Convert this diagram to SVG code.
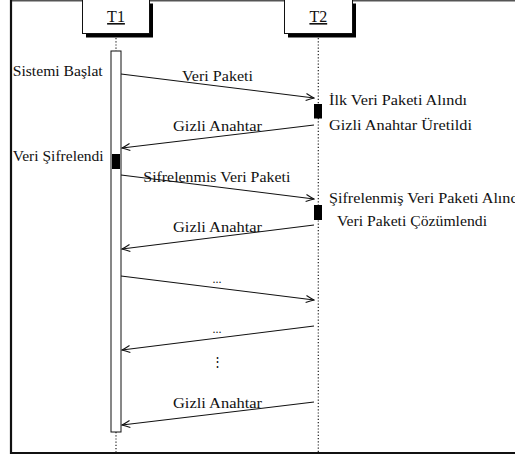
<svg xmlns="http://www.w3.org/2000/svg" width="515" height="457" viewBox="0 0 515 457" font-family="'Liberation Serif', 'Times New Roman', serif">
<style>
text{font-family:'Liberation Serif','Times New Roman',serif;font-size:15px;fill:#111}
.life{stroke:#222;stroke-width:1.2;stroke-dasharray:1.2 2;fill:none}
.msg{stroke:#111;stroke-width:1.1;fill:none;marker-end:url(#ah)}
.blk{fill:#000}
.ctr{text-anchor:middle}
</style>
<defs>
<marker id="ah" viewBox="-9 -5 10 10" refX="0" refY="0" markerWidth="10" markerHeight="10" markerUnits="userSpaceOnUse" orient="auto">
<path d="M-8,-3.5 Q-3,-1 0,0 Q-3,1 -8,3.5" fill="none" stroke="#111" stroke-width="1.1"/>
</marker>
</defs>
<rect width="515" height="457" fill="#fff"/>
<g id="frame">
<line x1="11" y1="0.8" x2="515" y2="0.8" stroke="#555" stroke-width="1.4"/>
<path d="M11,0 V453 H515" fill="none" stroke="#111" stroke-width="2.2"/>
</g>
<g id="T1">
<rect x="86" y="3.5" width="67" height="34" fill="#000"/>
<rect x="82.5" y="-0.5" width="67" height="34" fill="#fff" stroke="#111" stroke-width="1"/>
<text x="116" y="22" class="ctr" text-decoration="underline" style="font-size:16px">T1</text>
<line class="life" x1="116" y1="38" x2="116" y2="51"/>
<line class="life" x1="116" y1="432" x2="116" y2="453"/>
<rect x="111" y="51" width="10" height="381" fill="#fff" stroke="#111" stroke-width="1"/>
<rect class="blk" x="112" y="154" width="8" height="15"/>
<text x="12.7" y="76" textLength="90" lengthAdjust="spacingAndGlyphs">Sistemi Başlat</text>
<text x="12.7" y="161" textLength="91" lengthAdjust="spacingAndGlyphs">Veri Şifrelendi</text>
</g>
<g id="T2">
<rect x="288" y="3.5" width="68" height="34" fill="#000"/>
<rect x="284.5" y="-0.5" width="68" height="34" fill="#fff" stroke="#111" stroke-width="1"/>
<text x="318.3" y="22" class="ctr" text-decoration="underline" style="font-size:16px">T2</text>
<line class="life" x1="318.3" y1="38" x2="318.3" y2="452"/>
<rect class="blk" x="314" y="104" width="8" height="14.5"/>
<rect class="blk" x="314" y="205" width="8" height="15"/>
<text x="329" y="105" textLength="138" lengthAdjust="spacingAndGlyphs">İlk Veri Paketi Alındı</text>
<text x="329" y="130" textLength="143" lengthAdjust="spacingAndGlyphs">Gizli Anahtar Üretildi</text>
<text x="329" y="203" textLength="194" lengthAdjust="spacingAndGlyphs">Şifrelenmiş Veri Paketi Alındı</text>
<text x="337" y="226" textLength="150" lengthAdjust="spacingAndGlyphs">Veri Paketi Çözümlendi</text>
</g>
<g id="connectors">
<line class="msg" x1="121" y1="74" x2="314" y2="98"/>
<line class="msg" x1="314" y1="125" x2="122" y2="148"/>
<line class="msg" x1="121" y1="175" x2="314" y2="199"/>
<line class="msg" x1="314" y1="225" x2="122" y2="249"/>
<line class="msg" x1="121" y1="276" x2="314" y2="300"/>
<line class="msg" x1="314" y1="326" x2="122" y2="350"/>
<line class="msg" x1="314" y1="402" x2="122" y2="425"/>
<text x="182" y="81" textLength="71" lengthAdjust="spacingAndGlyphs">Veri Paketi</text>
<text x="173" y="131" textLength="89" lengthAdjust="spacingAndGlyphs">Gizli Anahtar</text>
<text x="143.3" y="182" textLength="147" lengthAdjust="spacingAndGlyphs">Sifrelenmis Veri Paketi</text>
<text x="173" y="232" textLength="89" lengthAdjust="spacingAndGlyphs">Gizli Anahtar</text>
<text x="217" y="283" class="ctr" style="font-size:12px">...</text>
<text x="217" y="333" class="ctr" style="font-size:12px">...</text>
<text x="217" y="366" class="ctr" style="font-family:'DejaVu Serif',serif;font-size:13px">⋮</text>
<text x="173" y="408" textLength="89" lengthAdjust="spacingAndGlyphs">Gizli Anahtar</text>
</g>
</svg>
